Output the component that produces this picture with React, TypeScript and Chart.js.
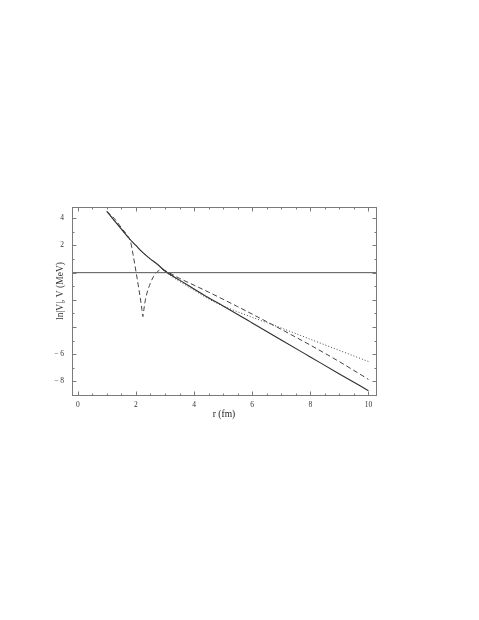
import React, { useEffect, useRef } from 'react';
import { Chart, registerables } from 'chart.js';

Chart.register(...registerables);

// ---- data ----
const solidR = [1.0, 1.25, 1.5, 1.75, 2.0, 2.25, 2.5, 2.75, 3.0, 3.5, 4.0, 4.5, 5.0, 6.0, 7.0, 8.0, 9.0, 10.0];
const solidV = [4.5, 3.85, 3.2, 2.55, 2.0, 1.45, 1.0, 0.6, 0.12, -0.55, -1.2, -1.85, -2.45, -3.7, -4.95, -6.2, -7.45, -8.68];

const dashedR = [1.0, 1.25, 1.5, 1.75, 1.8, 1.9, 2.0, 2.1, 2.2, 2.24, 2.28, 2.33, 2.4, 2.5, 2.6, 2.7, 2.8, 2.9, 3.0, 3.5, 4.0, 4.5, 5.0, 5.5, 6.0, 7.0, 8.0, 9.0, 10.0];
const dashedV = [4.5, 4.0, 3.3, 2.6, 2.4, 1.35, 0.1, -1.2, -2.6, -3.23, -2.6, -1.95, -1.35, -0.75, -0.3, 0.0, 0.17, 0.24, 0.15, -0.42, -0.92, -1.43, -1.96, -2.5, -3.05, -4.17, -5.33, -6.55, -7.85];

const dottedR = [1.0, 1.25, 1.5, 1.75, 2.0, 2.25, 2.5, 2.75, 3.0, 3.5, 4.0, 4.5, 5.0, 5.5, 6.0, 6.5, 7.0, 8.0, 9.0, 10.0];
const dottedV = [4.5, 3.85, 3.2, 2.55, 2.0, 1.45, 1.0, 0.58, 0.08, -0.64, -1.29, -1.93, -2.45, -2.88, -3.28, -3.68, -4.07, -4.9, -5.72, -6.54];

const xMin = -0.2;
const xMax = 10.26;
const yMin = -9;
const yMax = 4.83;

const zeroLineR = [xMin, xMax];
const zeroLineV = [0, 0];

const xTickValues = [0, 2, 4, 6, 8, 10];
const xTickLabels = ['0', '2', '4', '6', '8', '10'];
const xMinorTicks = [0.5, 1, 1.5, 2.5, 3, 3.5, 4.5, 5, 5.5, 6.5, 7, 7.5, 8.5, 9, 9.5];
const yTickValues = [4, 2, 0, -2, -4, -6, -8];
const yTickLabels = ['4', '2', '', '', '', '\u2212 6', '\u2212 8'];
const yMinorTicks = [3, 1, -1, -3, -5, -7];

const xTitle = 'r (fm)';
const yTitle = 'ln|V|, V (MeV)';

const FONT = '"Liberation Serif", "DejaVu Serif", serif';

const toPoints = (r: number[], v: number[]) => r.map((x, i) => ({ x, y: v[i] }));

const frameTicksPlugin = {
  id: 'frameTicks',
  afterDatasetsDraw(chart: any) {
    const { ctx, chartArea: a } = chart;
    const xs = chart.scales.x;
    const ys = chart.scales.y;
    const L = Math.round(a.left) + 0.5;
    const R = Math.round(a.right) + 0.5;
    const T = Math.round(a.top) + 0.5;
    const B = Math.round(a.bottom) + 0.5;
    ctx.save();
    ctx.strokeStyle = '#7a7a7a';
    ctx.lineWidth = 1;
    ctx.strokeRect(L, T, R - L, B - T);
    ctx.beginPath();
    const xt = (v: number, len: number) => {
      const p = Math.round(xs.getPixelForValue(v)) + 0.5;
      ctx.moveTo(p, B); ctx.lineTo(p, B - len);
      ctx.moveTo(p, T); ctx.lineTo(p, T + len);
    };
    const yt = (v: number, len: number) => {
      const p = Math.round(ys.getPixelForValue(v)) + 0.5;
      ctx.moveTo(L, p); ctx.lineTo(L + len, p);
      ctx.moveTo(R, p); ctx.lineTo(R - len, p);
    };
    xTickValues.forEach((v) => xt(v, 4));
    xMinorTicks.forEach((v) => xt(v, 2));
    yTickValues.forEach((v) => yt(v, 4));
    yMinorTicks.forEach((v) => yt(v, 2));
    ctx.stroke();

    // y-axis title (overlapping the tick label column, as in the reference)
    ctx.fillStyle = '#333';
    ctx.font = '9.5px ' + FONT;
    ctx.textAlign = 'center';
    ctx.textBaseline = 'middle';
    ctx.translate(a.left - 12, (a.top + a.bottom) / 2 - 10);
    ctx.rotate(-Math.PI / 2);
    ctx.fillText(yTitle, 0, 0);
    ctx.restore();
  },
};

export default function App() {
  const ref = useRef<HTMLCanvasElement | null>(null);

  useEffect(() => {
    if (!ref.current) return;
    const chart = new Chart(ref.current, {
      type: 'line',
      data: {
        datasets: [
          {
            data: toPoints(zeroLineR, zeroLineV),
            borderColor: '#555',
            borderWidth: 1,
            pointRadius: 0,
          },
          {
            data: toPoints(solidR, solidV),
            borderColor: '#2e2e2e',
            borderWidth: 1.1,
            pointRadius: 0,
            cubicInterpolationMode: 'monotone',
          },
          {
            data: toPoints(dashedR, dashedV),
            borderColor: '#444',
            borderWidth: 1,
            borderDash: [5, 3],
            pointRadius: 0,
            cubicInterpolationMode: 'monotone',
          },
          {
            data: toPoints(dottedR, dottedV),
            borderColor: '#444',
            borderWidth: 1,
            borderDash: [1, 2],
            pointRadius: 0,
            cubicInterpolationMode: 'monotone',
          },
        ],
      },
      options: {
        animation: false,
        responsive: false,
        maintainAspectRatio: false,
        events: [],
        layout: { padding: { left: 52, right: 103, top: 207, bottom: 200 } },
        plugins: {
          legend: { display: false },
          tooltip: { enabled: false },
          title: { display: false },
        },
        scales: {
          x: {
            type: 'linear',
            min: xMin,
            max: xMax,
            afterBuildTicks: (s: any) => {
              s.ticks = xTickValues.map((v) => ({ value: v }));
            },
            afterFit: (s: any) => {
              s.height = 25;
            },
            grid: { display: false, drawTicks: false },
            border: { display: false },
            ticks: {
              autoSkip: false,
              maxRotation: 0,
              padding: 6,
              color: '#333',
              font: { family: FONT, size: 7.5 },
              callback: (v: any) => {
                const i = xTickValues.indexOf(Number(v));
                return i >= 0 ? xTickLabels[i] : '';
              },
            },
            title: {
              display: true,
              text: xTitle,
              color: '#222',
              padding: 0,
              font: { family: FONT, size: 9.5 },
            },
          },
          y: {
            type: 'linear',
            min: yMin,
            max: yMax,
            afterBuildTicks: (s: any) => {
              s.ticks = yTickValues.map((v) => ({ value: v }));
            },
            afterFit: (s: any) => {
              s.width = 20;
            },
            grid: { display: false, drawTicks: false },
            border: { display: false },
            ticks: {
              autoSkip: false,
              padding: 8,
              color: '#333',
              font: { family: FONT, size: 7.5 },
              callback: (v: any) => {
                const i = yTickValues.indexOf(Number(v));
                return i >= 0 ? yTickLabels[i] : '';
              },
            },
            title: { display: false },
          },
        },
      },
      plugins: [frameTicksPlugin],
    } as any);
    return () => chart.destroy();
  }, []);

  return (
    <div style={{ position: 'absolute', left: 0, top: 0, width: 479, height: 620, background: '#fff' }}>
      <canvas ref={ref} width={479} height={620} style={{ display: 'block', width: 479, height: 620 }} />
    </div>
  );
}
